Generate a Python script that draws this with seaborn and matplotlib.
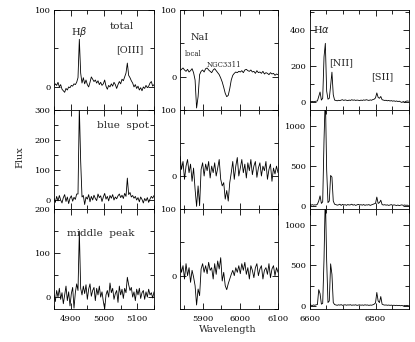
import matplotlib
matplotlib.use("Agg")
import matplotlib.pyplot as plt
import seaborn as sns
import numpy as np
from matplotlib.ticker import MultipleLocator

# wavelength grids (Angstrom), one per column
wave_hb = np.arange(4850, 5151, 4)
wave_na = np.arange(5840, 6101, 4)
wave_ha = np.arange(6600, 6901, 4)

# Hbeta / [OIII] region
total_hb = [1, 4, 2, 6, 0, 3, -3, -5, -7, -2, -4, 0, -1, 2, 1, 4, 3, 6, 12, 62,
            18, 5, 12, 4, 9, 3, 0, 6, 13, 10, 7, 9, 5, 8, 3, 6, 2, 4, 9, 1,
            -3, 2, 0, 4, 1, 6, 3, -2, 3, 7, 4, 10, 8, 13, 18, 31, 15, 12, 8, 5,
            0, 3, -2, 1, -4, -1, -5, 0, -2, 2, -1, 1, 5, 7, 1, 3]
blue_hb = [5, -8, 12, -3, 15, 0, -10, 8, 18, -5, 10, -12, 6, 14, -4, 9, 2, 20, 20, 310,
           130, 10, 15, -15, 10, 3, 18, -6, 12, 0, 16, 5, -2, 20, 8, 14, -5, 10, 22, 3,
           12, -3, 15, 6, 18, 0, 10, 4, 14, 20, 8, 16, 5, 22, 12, 73, 18, 25, 10, 15,
           6, 12, 0, 8, -6, 10, 2, -10, 5, -3, 8, -8, 3, 12, 6, 15]
mid_hb = [5, -10, 15, 0, 20, -5, 10, -15, 5, 25, -8, 12, -20, 8, 22, -25, 10, 30, 15, 150,
          20, 5, 25, 8, 28, -5, 18, 30, 2, 15, 22, -8, 20, 5, 25, 0, 12, -10, -27, 5,
          15, 0, 32, 10, 20, -5, 8, 15, -12, 25, 5, 18, -3, 20, 10, 45, 28, 15, 22, 0,
          12, -8, 18, 5, 20, -3, 10, 15, -5, 12, 0, 18, 5, 10, -2, 12]

# NaI region
total_na = [9, 11, 13, 10, 8, 11, 7, 9, 12, 6, -5, -47, -30, 3, 8, 10, 7, 12, 13, 10,
            8, 6, 10, 12, 9, 6, 3, -2, -8, -16, -25, -30, -28, -18, -5, 2, 5, 7, 6, 8,
            7, 9, 6, 10, 11, 9, 8, 10, 7, 8, 5, 9, 6, 7, 5, 8, 4, 6, 5, 3,
            6, 4, 5, 2, 4, 3]
blue_na = [30, 10, 22, -5, 15, 25, 5, 18, -8, 12, -20, -46, -15, -45, 10, 20, 0, 18, 8, 22,
           -3, 15, 5, 20, 0, 12, 25, -5, -15, -10, -35, -22, -38, -10, 5, 22, -5, 15, 28, 0,
           12, 25, 5, 18, -3, 20, 8, 25, 2, 15, 22, -2, 12, 20, 0, 15, 8, 22, -5, 10,
           18, -8, 12, 3, 15, 5]
mid_na = [20, 5, 15, -5, 18, 0, 12, -10, 8, -2, -15, -44, -20, -30, 10, 18, 5, 15, 3, 20,
          8, 12, -5, 18, 2, 22, 10, 27, -8, 5, -15, -21, -12, -5, 2, 8, 0, 12, 5, 15,
          3, 18, 8, 20, 2, 12, -5, 15, 8, -3, 12, 18, 0, 10, 15, -5, 8, 12, 2, 18,
          -3, 10, 15, 0, 12, 5]

# Halpha / [NII] / [SII] region
total_ha = [2, 0, 3, 1, 2, 4, 5, 30, 55, 10, 20, 250, 325, 60, 15, 20, 90, 165, 40, 10,
            8, 6, 9, 7, 10, 12, 8, 11, 9, 7, 10, 8, 12, 9, 11, 8, 10, 9, 7, 10,
            8, 11, 9, 12, 10, 8, 11, 9, 13, 15, 22, 50, 25, 20, 30, 12, 10, 8, 9, 6,
            8, 5, 7, 4, 6, 3, 5, 2, 4, 0, -3, 2, -2, 3, 5, 4]
blue_ha = [10, 5, 15, 8, 12, 10, 20, 60, 125, 30, 50, 825, 1400, 450, 40, 60, 380, 360, 60, 20,
           15, 8, 12, 20, 5, 18, 10, 14, 6, 16, 10, 12, 20, 8, 15, 5, 12, 18, 10, 14,
           8, 16, 6, 12, 10, 15, 5, 12, 18, 25, 30, 110, 30, 40, 70, 15, 10, 14, 8, 12,
           5, 10, 15, 6, 12, 8, 4, 10, 2, 8, 12, 5, 10, 6, 8, 4]
mid_ha = [5, 8, 3, 10, 6, 12, 15, 200, 150, 20, 30, 580, 1400, 560, 40, 60, 520, 390, 40, 15,
          10, 6, 12, 8, 14, 5, 10, 12, 7, 11, 9, 13, 6, 10, 8, 12, 5, 9, 11, 7,
          10, 6, 12, 8, 10, 5, 9, 7, 12, 20, 35, 165, 60, 40, 115, 20, 12, 8, 10, 6,
          9, 5, 8, 4, 7, 3, 6, 2, 5, 0, 4, -2, 3, 1, 5, 2]

sns.set_style("ticks")
plt.rcParams["font.family"] = ["DejaVu Serif", "DejaVu Sans"]

W, H = 415, 342
fig = plt.figure(figsize=(W / 100, H / 100), dpi=100)

col_px = [(54, 100), (180, 98), (309.5, 99)]
row_px = [(10, 100), (110, 99), (209, 100)]
xlims = [(4850, 5150), (5840, 6100), (6600, 6900)]
xmaj = [100, 100, 200]
waves = [wave_hb, wave_na, wave_ha]
fluxes = [[total_hb, total_na, total_ha],
          [blue_hb, blue_na, blue_ha],
          [mid_hb, mid_na, mid_ha]]
ylims = [[(-30, 100), (-50, 100), (-45, 510)],
         [(-30, 300), (-50, 100), (-40, 1200)],
         [(-27, 200), (-50, 100), (-40, 1200)]]
ymaj = [[100, 100, 200], [100, 100, 500], [100, 100, 500]]

axes = {}
for r in range(3):
    for c in range(3):
        x0, w = col_px[c]
        y0, h = row_px[r]
        ax = fig.add_axes([x0 / W, 1 - (y0 + h) / H, w / W, h / H])
        sns.lineplot(x=waves[c], y=fluxes[r][c], ax=ax, color="black", lw=0.6)
        ax.set_xlim(*xlims[c])
        ax.set_ylim(*ylims[r][c])
        ax.xaxis.set_major_locator(MultipleLocator(xmaj[c]))
        ax.xaxis.set_minor_locator(MultipleLocator(50))
        ax.yaxis.set_major_locator(MultipleLocator(ymaj[r][c]))
        ax.yaxis.set_minor_locator(MultipleLocator(ymaj[r][c] / 2))
        ax.tick_params(which="both", direction="in", top=True, right=True,
                       labelsize=6, width=0.6, colors="black")
        ax.tick_params(which="major", length=4, pad=2.5)
        ax.tick_params(which="minor", length=3)
        ax.tick_params(axis="x", pad=4)
        if r < 2:
            ax.set_xticklabels([])
        for s in ax.spines.values():
            s.set_linewidth(0.6)
            s.set_color("black")
        ax.set_xlabel("")
        ax.set_ylabel("")
        axes[(r, c)] = ax

fs = 7.5
axes[(0, 0)].text(4925, 72, r"H$\beta$", ha="center", va="center", fontsize=7)
axes[(0, 0)].text(5054, 79, "total", ha="center", va="center", fontsize=fs)
axes[(0, 0)].text(5078, 48, "[OIII]", ha="center", va="center", fontsize=7)
axes[(1, 0)].text(5057, 250, "blue  spot", ha="center", va="center", fontsize=fs)
axes[(2, 0)].text(4991, 145, "middle  peak", ha="center", va="center", fontsize=fs)

axes[(0, 1)].text(5893, 58, "NaI", ha="center", va="center", fontsize=7)
axes[(0, 1)].text(5875, 34, "local", ha="center", va="center", fontsize=5)
axes[(0, 1)].text(5957, 17, "NGC3311", ha="center", va="center", fontsize=5)

axes[(0, 2)].text(6612, 400, r"H$\alpha$", ha="left", va="center", fontsize=7)
axes[(0, 2)].text(6695, 217, "[NII]", ha="center", va="center", fontsize=7)
axes[(0, 2)].text(6820, 139, "[SII]", ha="center", va="center", fontsize=7)

fig.text(20 / W, 1 - 157 / H, "Flux", rotation=90, ha="center", va="center", fontsize=7)
fig.text(228 / W, 1 - 330 / H, "Wavelength", ha="center", va="center", fontsize=7)

fig.savefig("out.png", dpi=100)
